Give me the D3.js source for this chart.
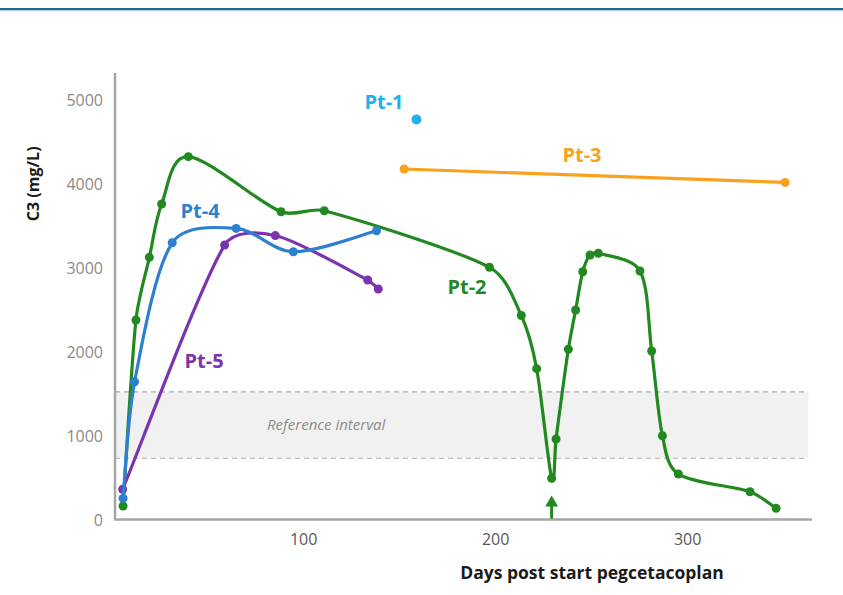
<!DOCTYPE html>
<html><head><meta charset="utf-8">
<script src="https://cdn.jsdelivr.net/npm/d3@7"></script>
<style>
html,body{margin:0;padding:0;background:#fff;}
text{font-family:"Open Sans",Lato,sans-serif;}
</style></head>
<body>
<svg id="chart" width="843" height="595"></svg>
<script>
// ---- data ----
const pt1Days = [159];
const pt1Vals = [4766];
const pt2Days = [6.2,12.9,19.9,26.3,40.2,88.5,111,197,213.6,221.6,229.4,231.7,238.1,241.9,245.6,249.4,253.7,275.4,281.5,287.1,295.4,332.7,346.3];
const pt2Vals = [161,2377,3124,3759,4323,3667,3679,3005,2431,1797,491,959,2028,2496,2952,3151,3172,2961,2008,998,542,331,133];
const pt3Days = [152.6,351];
const pt3Vals = [4176,4016];
const pt4Days = [6.2,12.2,31.8,65.1,94.9,138.2];
const pt4Vals = [251,1640,3297,3468,3190,3440];
const pt5Days = [6,59.1,85.5,133.6,139.1];
const pt5Vals = [361,3270,3383,2853,2747];
const refInterval = [730,1520];
const arrowDay = [229.4];
const yTicks = [0,1000,2000,3000,4000,5000];
const xTicks = [100,200,300];
const seriesNames = ["Pt-1","Pt-2","Pt-3","Pt-4","Pt-5"];

const svg = d3.select("#chart");
// header rule
svg.append("rect").attr("x",0).attr("y",8).attr("width",843).attr("height",2.4).attr("fill","#1b6a91");
svg.append("rect").attr("x",0).attr("y",10.4).attr("width",843).attr("height",1).attr("fill","#c9dbe5");

const x = d3.scaleLinear().domain([2,365]).range([115,812]);
const y = d3.scaleLinear().domain([0,5320]).range([519.5,73]);

// reference band
const g = svg.append("g");
g.append("rect").attr("x",x(2)).attr("width",x(363)-x(2))
 .attr("y",y(refInterval[1])).attr("height",y(refInterval[0])-y(refInterval[1]))
 .attr("fill","#f1f1f1");
refInterval.forEach(v=>{
  g.append("line").attr("x1",x(2)).attr("x2",x(363)).attr("y1",y(v)).attr("y2",y(v))
   .attr("stroke","#aaaaaa").attr("stroke-width",1.2).attr("stroke-dasharray","5,4");
});
g.append("text").attr("x",x(112)).attr("y",y((refInterval[0]+refInterval[1])/2)+4.5)
 .attr("text-anchor","middle").attr("font-style","italic").attr("font-size",15)
 .attr("fill","#8c8c8c").text("Reference interval");

// axes
const yAxis = d3.axisLeft(y).tickValues(yTicks).tickFormat(d3.format("d")).tickSize(0).tickPadding(12);
const ya = svg.append("g").attr("transform",`translate(${x(2)},0)`).call(yAxis);
ya.select(".domain").remove();
ya.selectAll("text").attr("font-size",16).attr("fill","#8a8a8a").attr("dy","0.35em");
const xAxis = d3.axisBottom(x).tickValues(xTicks).tickFormat(d3.format("d")).tickSize(0).tickPadding(14);
const xa = svg.append("g").attr("transform",`translate(0,${y(0)})`).call(xAxis);
xa.select(".domain").remove();
xa.selectAll("text").attr("font-size",16).attr("fill","#595959");

svg.append("line").attr("x1",x(2)).attr("x2",x(2)).attr("y1",y(5320)).attr("y2",y(0))
 .attr("stroke","#a6a6a6").attr("stroke-width",2.5);
svg.append("line").attr("x1",x(2)-1).attr("x2",x(365)).attr("y1",y(0)).attr("y2",y(0))
 .attr("stroke","#a6a6a6").attr("stroke-width",2.5);

svg.append("text").attr("transform",`translate(39,${y(4000)}) rotate(-90)`)
 .attr("text-anchor","middle").attr("font-weight","bold").attr("font-size",16)
 .attr("fill","#1a1a1a").text("C3 (mg/L)");
svg.append("text").attr("x",592).attr("y",579)
 .attr("text-anchor","middle").attr("font-weight","bold").attr("font-size",17.5)
 .attr("fill","#1a1a1a").text("Days post start pegcetacoplan");

// Excel-like smoothed path through pixel points
function smoothPath(p){
  const path = d3.path();
  path.moveTo(p[0][0],p[0][1]);
  if(p.length===2){ path.lineTo(p[1][0],p[1][1]); return path.toString(); }
  const dist=(a,b)=>Math.hypot(b[0]-a[0],b[1]-a[1]);
  const n=p.length, cin=[], cout=[];
  for(let i=0;i<n;i++){
    let a = i===0? p[0] : p[i-1];
    let b = i===n-1? p[n-1] : p[i+1];
    const dx=b[0]-a[0], dy=b[1]-a[1], L=Math.hypot(dx,dy)||1;
    const ux=dx/L, uy=dy/L;
    const segIn = i>0? dist(p[i-1],p[i]) : 0;
    const segOut = i<n-1? dist(p[i],p[i+1]) : 0;
    const mi = i===0?0:Math.min(L/6, segIn/3);
    const mo = i===n-1?0:Math.min(L/6, segOut/3);
    cin.push([p[i][0]-ux*mi, p[i][1]-uy*mi]);
    cout.push([p[i][0]+ux*mo, p[i][1]+uy*mo]);
  }
  for(let i=0;i<n-1;i++){
    path.bezierCurveTo(cout[i][0],cout[i][1],cin[i+1][0],cin[i+1][1],p[i+1][0],p[i+1][1]);
  }
  return path.toString();
}

// series
const series = [
  {name:seriesNames[1], days:pt2Days, vals:pt2Vals, color:"#21891f", lab:[185.3,2770]},
  {name:seriesNames[4], days:pt5Days, vals:pt5Vals, color:"#7b34ad", lab:[48.4,1888]},
  {name:seriesNames[3], days:pt4Days, vals:pt4Vals, color:"#2d7fcf", lab:[46.3,3676]},
  {name:seriesNames[2], days:pt3Days, vals:pt3Vals, color:"#f7a11d", lab:[245.2,4343]},
  {name:seriesNames[0], days:pt1Days, vals:pt1Vals, color:"#1fb1ea", lab:[142.1,4974]},
];
series.forEach(s=>{
  const pts = s.days.map((d,i)=>[d,s.vals[i]]);
  if(pts.length>1){
    svg.append("path").attr("d",smoothPath(pts.map(d=>[x(d[0]),y(d[1])]))).attr("fill","none")
      .attr("stroke",s.color).attr("stroke-width",3.2).attr("stroke-linejoin","round");
  }
  svg.selectAll(null).data(pts).enter().append("circle")
    .attr("cx",d=>x(d[0])).attr("cy",d=>y(d[1])).attr("r",pts.length>1?4.5:5)
    .attr("fill",s.color);
  svg.append("text").attr("x",x(s.lab[0])).attr("y",y(s.lab[1])).attr("dy","0.35em")
    .attr("text-anchor","middle").attr("font-weight","bold").attr("font-size",20)
    .attr("fill",s.color).text(s.name);
});

// arrow
const ax = x(arrowDay[0]);
svg.append("line").attr("x1",ax).attr("x2",ax).attr("y1",y(0)-1).attr("y2",y(0)-16)
 .attr("stroke","#21891f").attr("stroke-width",3);
svg.append("path").attr("d",`M${ax-6.5},${y(0)-13} L${ax},${y(0)-24} L${ax+6.5},${y(0)-13} Z`)
 .attr("fill","#21891f");
</script>
</body></html>
